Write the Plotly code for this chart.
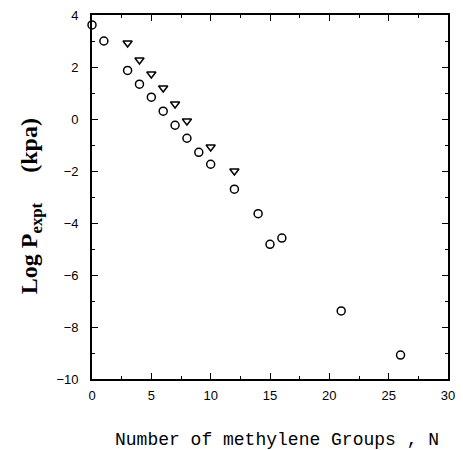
import plotly.graph_objects as go

circ_n = [0, 1, 3, 4, 5, 6, 7, 8, 9, 10, 12, 14, 15, 16, 21, 26]
circ_logp = [3.62, 3.0, 1.87, 1.34, 0.84, 0.3, -0.24, -0.74, -1.28, -1.74, -2.7, -3.64, -4.82, -4.58, -7.38, -9.08]

tri_n = [3, 4, 5, 6, 7, 8, 10, 12]
tri_logp = [2.92, 2.27, 1.73, 1.19, 0.58, -0.08, -1.08, -2.0]

x_ticks = [0, 5, 10, 15, 20, 25, 30]
y_ticks = [-10, -8, -6, -4, -2, 0, 2, 4]

fig = go.Figure()
fig.add_trace(go.Scatter(x=circ_n, y=circ_logp, mode="markers",
                         marker=dict(symbol="circle-open", size=8, color="black",
                                     line=dict(width=1.5, color="black")),
                         cliponaxis=False, showlegend=False))
fig.add_trace(go.Scatter(x=tri_n, y=tri_logp, mode="markers",
                         marker=dict(symbol="triangle-down-open", size=8, color="black",
                                     line=dict(width=1.5, color="black")),
                         cliponaxis=False, showlegend=False))

tickfont = dict(family="Liberation Sans, Arial, sans-serif", size=13, color="black")
fig.update_xaxes(range=[0, 30], tickvals=x_ticks, ticks="inside", ticklen=6, tickwidth=1.2,
                 tickcolor="black", showline=True, linecolor="black", linewidth=1.6,
                 mirror="ticks", showgrid=False, zeroline=False, tickfont=tickfont,
                 ticklabelstandoff=4,
                 minor=dict(dtick=2.5, ticks="inside", ticklen=3, tickcolor="black", tickwidth=1))
fig.update_yaxes(range=[-10, 4], tickvals=y_ticks, ticks="inside", ticklen=6, tickwidth=1.2,
                 tickcolor="black", showline=True, linecolor="black", linewidth=1.6,
                 mirror="ticks", showgrid=False, zeroline=False, tickfont=tickfont,
                 ticklabelstandoff=9,
                 minor=dict(dtick=1, ticks="inside", ticklen=3, tickcolor="black", tickwidth=1))

fig.add_annotation(text="<b>Log P<sub>expt</sub>\u00a0\u00a0\u00a0\u00a0\u00a0(kpa)</b>",
                   xref="paper", yref="paper", x=-0.171, y=0.475, textangle=-90,
                   xanchor="center", yanchor="middle", showarrow=False,
                   font=dict(family="Liberation Serif, Times New Roman, serif", size=24, color="black"))

fig.add_annotation(text="Number of methylene Groups , N", xref="paper", yref="paper",
                   x=0.521, y=-0.168, xanchor="center", yanchor="middle", showarrow=False,
                   font=dict(family="Liberation Mono, Courier New, monospace", size=18, color="black"))

fig.update_layout(width=463, height=450, margin=dict(l=92, r=8, t=15, b=71),
                  plot_bgcolor="white", paper_bgcolor="white")

fig.write_html("out.html")
